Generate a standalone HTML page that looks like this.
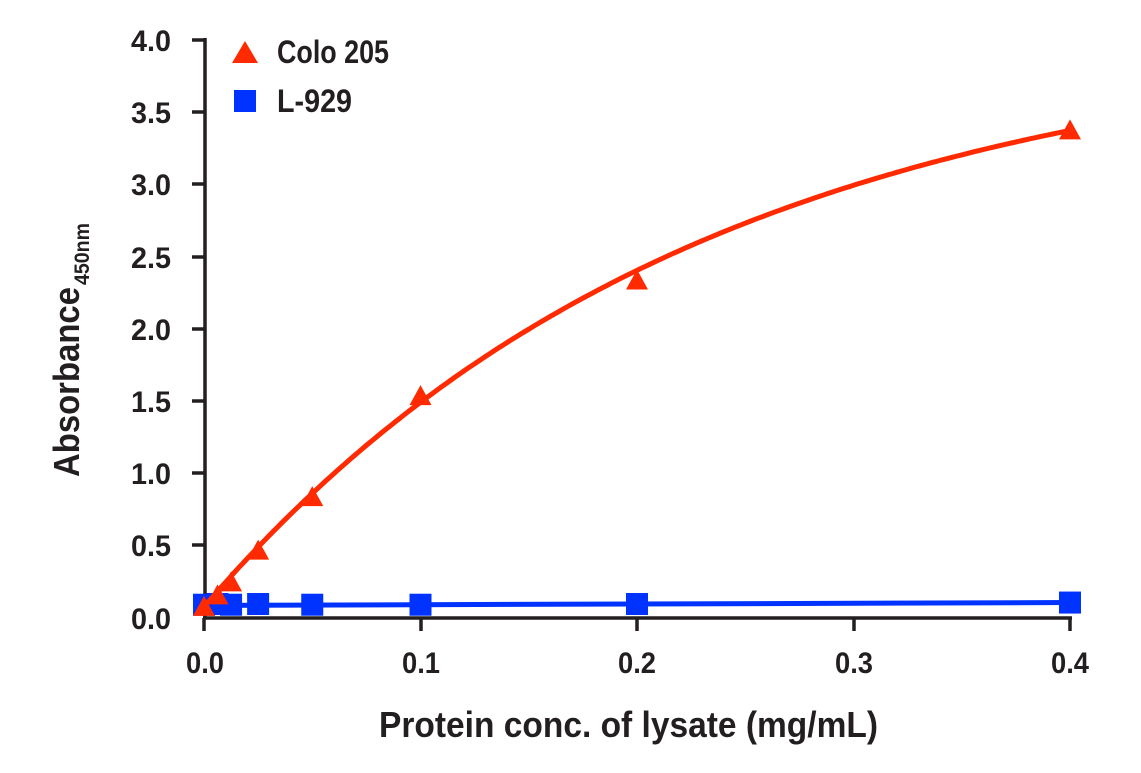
<!DOCTYPE html>
<html><head><meta charset="utf-8"><style>
body{margin:0;background:#fff}
svg text{font-family:"Liberation Sans Narrow","Liberation Sans",sans-serif;font-weight:bold;fill:#231f20}
</style></head><body>
<svg id="s" width="1141" height="768" viewBox="0 0 1141 768" xmlns="http://www.w3.org/2000/svg">
<g stroke="#231f20" stroke-width="3.5" fill="none">
<line x1="205" y1="38" x2="205" y2="619"/>
<line x1="203" y1="618" x2="1072" y2="618"/>
<line x1="192" y1="40" x2="205" y2="40"/>
<line x1="192" y1="112" x2="205" y2="112"/>
<line x1="192" y1="184" x2="205" y2="184"/>
<line x1="192" y1="257" x2="205" y2="257"/>
<line x1="192" y1="329" x2="205" y2="329"/>
<line x1="192" y1="401" x2="205" y2="401"/>
<line x1="192" y1="473" x2="205" y2="473"/>
<line x1="192" y1="545" x2="205" y2="545"/>
<line x1="204" y1="618" x2="204" y2="631"/>
<line x1="421" y1="618" x2="421" y2="631"/>
<line x1="637" y1="618" x2="637" y2="631"/>
<line x1="854" y1="618" x2="854" y2="631"/>
<line x1="1070" y1="618" x2="1070" y2="631"/>
</g>
<g font-size="30" lengthAdjust="spacingAndGlyphs">
<text x="131" y="51" textLength="40" lengthAdjust="spacingAndGlyphs">4.0</text>
<text x="131" y="123" textLength="40" lengthAdjust="spacingAndGlyphs">3.5</text>
<text x="131" y="195" textLength="40" lengthAdjust="spacingAndGlyphs">3.0</text>
<text x="131" y="268" textLength="40" lengthAdjust="spacingAndGlyphs">2.5</text>
<text x="131" y="340" textLength="40" lengthAdjust="spacingAndGlyphs">2.0</text>
<text x="131" y="412" textLength="40" lengthAdjust="spacingAndGlyphs">1.5</text>
<text x="131" y="484" textLength="40" lengthAdjust="spacingAndGlyphs">1.0</text>
<text x="131" y="556" textLength="40" lengthAdjust="spacingAndGlyphs">0.5</text>
<text x="131" y="629" textLength="40" lengthAdjust="spacingAndGlyphs">0.0</text>
<text x="186" y="673" textLength="38" lengthAdjust="spacingAndGlyphs">0.0</text>
<text x="402" y="673" textLength="38" lengthAdjust="spacingAndGlyphs">0.1</text>
<text x="618" y="673" textLength="38" lengthAdjust="spacingAndGlyphs">0.2</text>
<text x="835" y="673" textLength="38" lengthAdjust="spacingAndGlyphs">0.3</text>
<text x="1051" y="673" textLength="38" lengthAdjust="spacingAndGlyphs">0.4</text>
</g>
<text x="379" y="737" font-size="36" textLength="499" lengthAdjust="spacingAndGlyphs">Protein conc. of lysate (mg/mL)</text>
<g transform="translate(79,477) rotate(-90)"><text x="0" y="0" font-size="36" textLength="190" lengthAdjust="spacingAndGlyphs">Absorbance</text><text x="192" y="10" font-size="21" textLength="62" lengthAdjust="spacingAndGlyphs">450nm</text></g>
<polygon points="232,63 258,63 245,41" fill="#ff2a00"/>
<text x="277" y="63" font-size="32" textLength="112" lengthAdjust="spacingAndGlyphs">Colo 205</text>
<rect x="234" y="90" width="22" height="22" fill="#0033ff"/>
<text x="277" y="112" font-size="32" textLength="75" lengthAdjust="spacingAndGlyphs">L-929</text>
<g id="g"></g>
</svg>
<script>
var X=v=>204+v*2165, Y=v=>617-v*144.4, g=document.getElementById('g'), ns='http://www.w3.org/2000/svg';
function el(t,a){var e=document.createElementNS(ns,t);for(var k in a)e.setAttribute(k,a[k]);g.appendChild(e);return e;}
var d='';for(var i=0;i<=200;i++){var x=0.4*i/200,y=0.07+3.99*(1-Math.exp(-x/0.228));d+=(i?'L':'M')+X(x).toFixed(1)+','+Y(y).toFixed(1);}
el('line',{x1:X(0),y1:Y(0.08),x2:X(0.4),y2:Y(0.1),stroke:'#0033ff','stroke-width':5});
[[0,0.085],[0.00625,0.09],[0.0125,0.085],[0.025,0.09],[0.05,0.085],[0.1,0.085],[0.2,0.09],[0.4,0.1]].forEach(p=>el('rect',{x:X(p[0])-11,y:Y(p[1])-11,width:22,height:22,fill:'#0033ff'}));
el('path',{d:d,stroke:'#ff2a00','stroke-width':5,fill:'none'});
[[0,0.07],[0.00625,0.15],[0.0125,0.24],[0.025,0.46],[0.05,0.83],[0.1,1.53],[0.2,2.33],[0.4,3.37]].forEach(p=>{var x=X(p[0]),y=Y(p[1]);el('polygon',{points:(x-11)+','+(y+9)+' '+(x+11)+','+(y+9)+' '+x+','+(y-11),fill:'#ff2a00'});});
</script>
</body></html>
